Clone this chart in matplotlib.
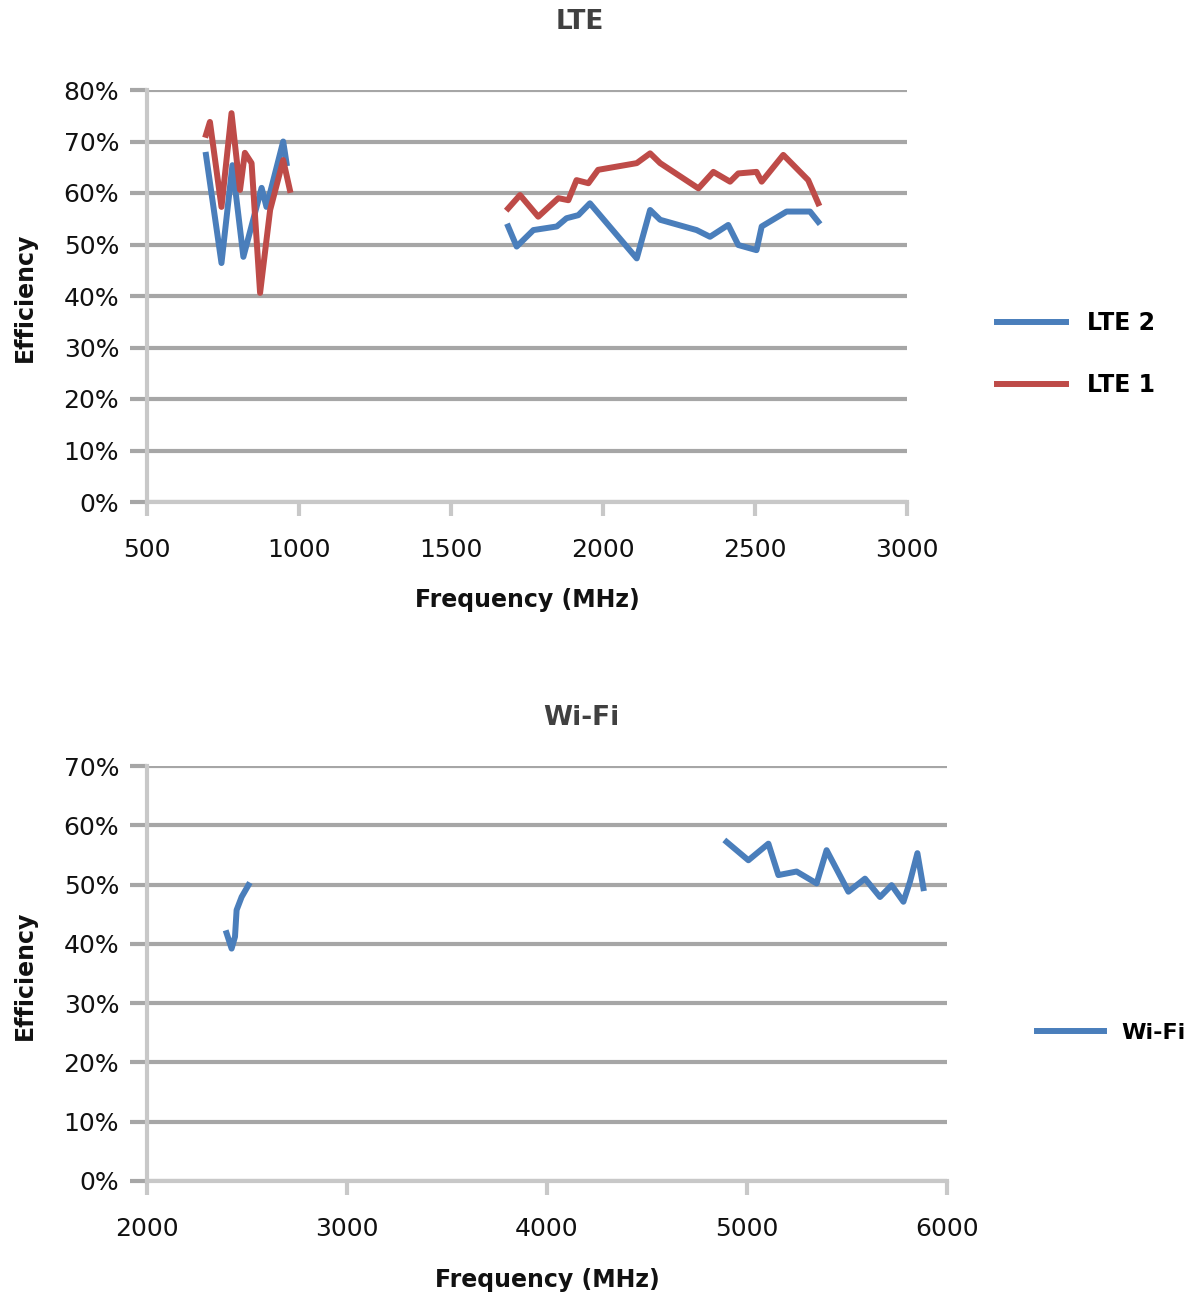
import matplotlib
matplotlib.use('Agg')
import matplotlib.pyplot as plt
from matplotlib.ticker import FuncFormatter

# LTE 2 (blue) - low band and high band, None splits the gap
lte2_freq = [694, 745, 781, 817, 877, 893, 948, 959,
             None,
             1688, 1716, 1771, 1848, 1880, 1919, 1957, 1990, 2111, 2155, 2188,
             2308, 2352, 2412, 2445, 2505, 2522, 2604, 2681, 2708]
lte2_eff = [67.4, 46.4, 65.4, 47.6, 61.0, 57.3, 70.0, 65.8,
            None,
            53.5, 49.6, 52.8, 53.5, 55.1, 55.7, 58.0, 55.7, 47.3, 56.7, 54.8,
            52.8, 51.5, 53.8, 49.9, 48.9, 53.5, 56.4, 56.4, 54.4]

# LTE 1 (red)
lte1_freq = [694, 707, 745, 778, 806, 822, 844, 872, 905, 948, 970,
             None,
             1688, 1727, 1787, 1853, 1886, 1913, 1952, 1984, 2111, 2155, 2188,
             2314, 2363, 2418, 2445, 2505, 2522, 2593, 2675, 2708]
lte1_eff = [71.3, 73.8, 57.3, 75.5, 60.6, 67.8, 65.8, 40.6, 56.7, 66.4, 60.6,
            None,
            57.0, 59.6, 55.4, 59.0, 58.6, 62.5, 61.9, 64.5, 65.8, 67.7, 65.8,
            60.9, 64.1, 62.2, 63.8, 64.1, 62.2, 67.4, 62.5, 58.0]

# Wi-Fi
wifi_freq = [2398, 2423, 2440, 2448, 2473, 2507,
             None,
             4898, 5007, 5107, 5157, 5248, 5348, 5398, 5507, 5590, 5665, 5723,
             5782, 5815, 5852, 5882]
wifi_eff = [41.8, 39.2, 41.2, 45.7, 47.9, 49.9,
            None,
            57.2, 54.1, 56.9, 51.6, 52.2, 50.2, 55.8, 48.8, 51.0, 47.9, 49.9,
            47.1, 50.5, 55.3, 49.4]


def nan_list(vals):
    return [float('nan') if v is None else v for v in vals]


blue = '#4a7ebb'
red = '#be4b48'
grid_c = '#a6a6a6'
axis_c = '#c8c8c8'
lw = 4.3

W, H = 1200, 1300
fig = plt.figure(figsize=(12, 13), dpi=100)


def px_axes(left, top, right, bottom):
    return fig.add_axes([left / W, 1 - bottom / H, (right - left) / W, (bottom - top) / H])


def style(ax, xmin, xmax, xstep, ymax):
    ax.set_xlim(xmin, xmax)
    ax.set_ylim(0, ymax)
    ax.set_xticks(range(xmin, xmax + 1, xstep))
    ax.set_yticks(range(0, ymax + 1, 10))
    ax.yaxis.set_major_formatter(FuncFormatter(lambda v, p: '%d%%' % round(v)))
    ax.grid(axis='y', color=grid_c, linewidth=3)
    ax.set_axisbelow(True)
    for s in ['top', 'right']:
        ax.spines[s].set_visible(False)
    ax.spines['left'].set_color(axis_c)
    ax.spines['left'].set_linewidth(3)
    ax.spines['bottom'].set_color(axis_c)
    ax.spines['bottom'].set_linewidth(3)
    ax.tick_params(axis='y', length=12, width=3, color=grid_c, labelsize=18, pad=8, labelcolor='#111111')
    ax.tick_params(axis='x', length=10, width=3, color=axis_c, labelsize=18, pad=16, labelcolor='#111111')


# top chart
ax1 = px_axes(147, 90, 907, 502)
style(ax1, 500, 3000, 500, 80)
ax1.plot(nan_list(lte2_freq), nan_list(lte2_eff), color=blue, linewidth=lw, label='LTE 2')
ax1.plot(nan_list(lte1_freq), nan_list(lte1_eff), color=red, linewidth=lw, label='LTE 1')
fig.text(580 / W, 1 - 22 / H, 'LTE', ha='center', va='center', fontsize=19,
         fontweight='bold', color='#404040')
fig.text(527 / W, 1 - 600 / H, 'Frequency (MHz)', ha='center', va='center',
         fontsize=17, fontweight='bold', color='#111111')
fig.text(25 / W, 1 - 297 / H, 'Efficiency', ha='center', va='center', rotation=90,
         fontsize=17, fontweight='bold', color='#111111')
ax1.legend(loc='center left', bbox_to_anchor=(976 / W, 1 - 354 / H),
           bbox_transform=fig.transFigure, frameon=False, handlelength=2.9,
           handletextpad=0.9, labelspacing=1.6,
           prop={'weight': 'bold', 'size': 17})

# bottom chart
ax2 = px_axes(147, 766, 947, 1181)
style(ax2, 2000, 6000, 1000, 70)
ax2.plot(nan_list(wifi_freq), nan_list(wifi_eff), color=blue, linewidth=lw, label='Wi-Fi')
fig.text(581 / W, 1 - 718 / H, 'Wi-Fi', ha='center', va='center', fontsize=19,
         fontweight='bold', color='#404040')
fig.text(547 / W, 1 - 1280 / H, 'Frequency (MHz)', ha='center', va='center',
         fontsize=17, fontweight='bold', color='#111111')
fig.text(25 / W, 1 - 975 / H, 'Efficiency', ha='center', va='center', rotation=90,
         fontsize=17, fontweight='bold', color='#111111')
ax2.legend(loc='center left', bbox_to_anchor=(1017 / W, 1 - 1033 / H),
           bbox_transform=fig.transFigure, frameon=False, handlelength=3.0,
           handletextpad=0.8, prop={'weight': 'bold', 'size': 16})

fig.savefig('out.png', dpi=100)
